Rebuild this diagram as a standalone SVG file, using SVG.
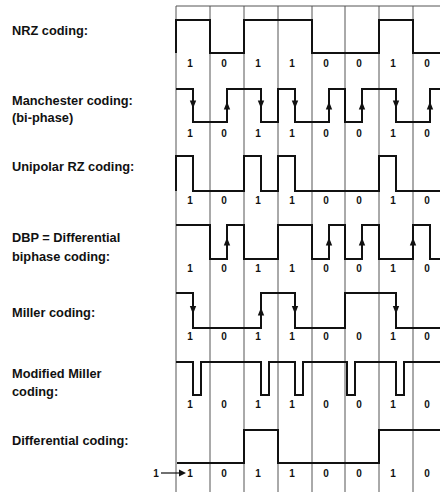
<svg xmlns="http://www.w3.org/2000/svg" width="440" height="492" viewBox="0 0 440 492">
<style>
.lbl{font-family:"Liberation Sans",Arial,sans-serif;font-weight:bold;font-size:12.8px;fill:#111}
.bit{font-family:"Liberation Sans",Arial,sans-serif;font-weight:bold;font-size:10px;fill:#111;text-anchor:middle}
.grid{stroke:#555;stroke-width:1;fill:none}
.wave{stroke:#111;stroke-width:2;fill:none;stroke-linejoin:miter}
</style>
<defs>
<path id="ad" d="M-3.2,-4 L3.2,-4 L0,4 Z" fill="#111"/>
<path id="au" d="M-3.2,4 L3.2,4 L0,-4 Z" fill="#111"/>
<g id="bits">
<text class="bit" x="190">1</text><text class="bit" x="224">0</text><text class="bit" x="258">1</text><text class="bit" x="292">1</text><text class="bit" x="326">0</text><text class="bit" x="359">0</text><text class="bit" x="393">1</text><text class="bit" x="427">0</text>
</g>
</defs>
<rect width="440" height="492" fill="#fff"/>
<g id="grid" class="grid">
<path d="M176,6 H440 M176,6 V492 M210,6 V492 M244,6 V492 M278,6 V492 M312,6 V492 M345,6 V492 M379,6 V492 M413,6 V492"/>
</g>
<g id="labels">
<text class="lbl" x="12" y="35">NRZ coding:</text>
<text class="lbl" x="12" y="104.5">Manchester coding:</text>
<text class="lbl" x="12" y="121.5">(bi-phase)</text>
<text class="lbl" x="12" y="171">Unipolar RZ coding:</text>
<text class="lbl" x="12" y="241.5">DBP = Differential</text>
<text class="lbl" x="12" y="260.5">biphase coding:</text>
<text class="lbl" x="12" y="317">Miller coding:</text>
<text class="lbl" x="12" y="378">Modified Miller</text>
<text class="lbl" x="12" y="395.5">coding:</text>
<text class="lbl" x="12" y="444.5">Differential coding:</text>
</g>
<g id="nrz">
<path class="wave" d="M176,53 V20 H210 V53 H244 V20 H312 V53 H379 V20 H413 V53 H440"/>
<use href="#bits" y="66.5"/>
</g>
<g id="manchester">
<path class="wave" d="M176,89 H193 V122 H227 V89 H261 V122 H278 V89 H295 V122 H329 V89 H345 V122 H362 V89 H396 V122 H430 V89 H440"/>
<use href="#ad" x="193" y="104.5"/><use href="#ad" x="261" y="104.5"/><use href="#ad" x="295" y="104.5"/><use href="#ad" x="396" y="104.5"/>
<use href="#au" x="227" y="105.5"/><use href="#au" x="329" y="105.5"/><use href="#au" x="362" y="105.5"/><use href="#au" x="430" y="105.5"/>
<use href="#bits" y="136.5"/>
</g>
<g id="unipolar-rz">
<path class="wave" d="M176,191 V156 H193 V191 H244 V156 H261 V191 H278 V156 H295 V191 H379 V156 H396 V191 H440"/>
<use href="#bits" y="203.5"/>
</g>
<g id="dbp">
<path class="wave" d="M176,225 H210 V259 H227 V225 H244 V259 H278 V225 H312 V259 H329 V225 H345 V259 H362 V225 H379 V259 H413 V225 H430 V259 H440"/>
<use href="#au" x="227" y="241.5"/><use href="#au" x="329" y="241.5"/><use href="#au" x="362" y="241.5"/><use href="#au" x="413" y="241.5"/>
<use href="#bits" y="272"/>
</g>
<g id="miller">
<path class="wave" d="M176,293 H193 V328 H261 V293 H295 V328 H345 V293 H396 V328 H440"/>
<use href="#ad" x="193" y="310"/><use href="#ad" x="295" y="310"/><use href="#ad" x="396" y="310"/>
<use href="#au" x="261" y="311.5"/>
<use href="#bits" y="339.5"/>
</g>
<g id="modified-miller">
<path class="wave" d="M176,362 H193 V395 H201 V362 H261 V395 H269 V362 H295 V395 H303 V362 H347 V395 H355 V362 H396 V395 H404 V362 H440"/>
<use href="#bits" y="407.5"/>
</g>
<g id="differential">
<path class="wave" d="M177,463 H244 V430 H278 V463 H379 V430 H440"/>
<use href="#bits" y="476.5"/>
<text class="bit" x="156" y="476.5">1</text>
</g>
<g id="connectors">
<path d="M161,473 H180" stroke="#111" stroke-width="1.2" fill="none"/>
<path d="M179,469.5 L186,473 L179,476.5 Z" fill="#111"/>
</g>
</svg>
